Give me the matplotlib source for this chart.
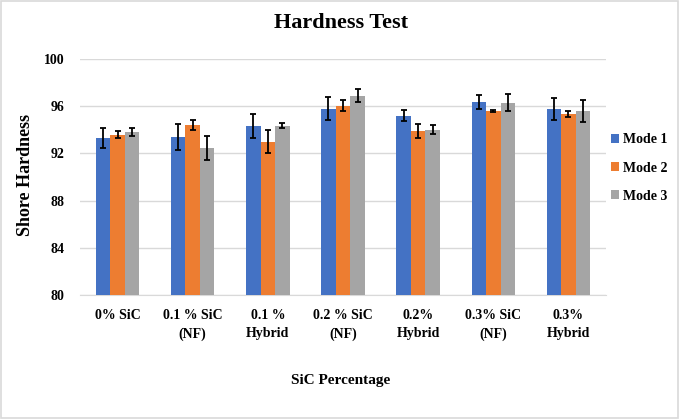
import numpy as np
import matplotlib
matplotlib.use("Agg")
import matplotlib.pyplot as plt
from matplotlib.patches import Rectangle

plt.rcParams['font.family'] = ['Liberation Serif', 'DejaVu Serif']

categories = ["0% SiC", "0.1 % SiC\n(NF)", "0.1 %\nHybrid", "0.2 % SiC\n(NF)",
              "0.2%\nHybrid", "0.3% SiC\n(NF)", "0.3%\nHybrid"]
series = ["Mode 1", "Mode 2", "Mode 3"]
mode1 = [93.3, 93.4, 94.3, 95.8, 95.2, 96.35, 95.8]
mode2 = [93.6, 94.4, 93.0, 96.05, 93.9, 95.6, 95.35]
mode3 = [93.8, 92.45, 94.35, 96.9, 94.0, 96.3, 95.6]
err1 = [0.87, 1.1, 1.0, 0.97, 0.47, 0.56, 0.93]
err2 = [0.27, 0.42, 1.0, 0.45, 0.58, 0.1, 0.24]
err3 = [0.35, 1.0, 0.2, 0.58, 0.38, 0.73, 0.92]
colors = ["#4472C4", "#ED7D31", "#A5A5A5"]

fig = plt.figure(figsize=(6.79, 4.19), dpi=100)
ax = fig.add_axes([80 / 679, 1 - 295 / 419, (606 - 80) / 679, (295 - 59) / 419])

x = np.arange(len(categories))
w = 0.193
for i, (vals, errs) in enumerate([(mode1, err1), (mode2, err2), (mode3, err3)]):
    ax.bar(x + (i - 1) * w, vals, width=w, color=colors[i], label=series[i],
           yerr=errs, capsize=2.5, error_kw=dict(ecolor='black', elinewidth=1.3, capthick=1.3),
           zorder=3)

ax.set_ylim(80, 100)
ax.set_xlim(-0.5, len(categories) - 0.5)
ax.set_yticks([80, 84, 88, 92, 96, 100])
ax.yaxis.grid(True, color='#D9D9D9', linewidth=1)
ax.set_axisbelow(True)
for s in ['top', 'right', 'left']:
    ax.spines[s].set_visible(False)
ax.spines['bottom'].set_color('#D9D9D9')
ax.tick_params(axis='y', length=0, pad=11, labelsize=10)
ax.tick_params(axis='x', length=0, pad=10, labelsize=10)
ax.set_xticks(x)
ax.set_xticklabels(categories, fontweight='bold', linespacing=1.55)
for lbl in ax.get_yticklabels():
    lbl.set_fontweight('bold')

fig.text(341 / 679, 1 - 23 / 419, "Hardness Test", ha='center', va='center',
         fontsize=16, fontweight='bold')
fig.text(26 / 679, 1 - 175 / 419, "Shore Hardness", ha='center', va='center',
         rotation=90, fontsize=13, fontweight='bold')
fig.text(341 / 679, 1 - 380 / 419, "SiC Percentage", ha='center', va='center',
         fontsize=11, fontweight='bold')

leg = fig.legend(loc='center left', bbox_to_anchor=(598 / 679, 1 - 168 / 419),
                 frameon=False, prop={'weight': 'bold', 'size': 10},
                 handlelength=0.6, handleheight=0.6, handletextpad=0.3, labelspacing=1.1)

fig.patches.append(Rectangle((0.002, 0.002), 0.996, 0.996, transform=fig.transFigure,
                             fill=False, edgecolor='#D9D9D9', linewidth=1.2))

fig.savefig("out.png", dpi=100)
